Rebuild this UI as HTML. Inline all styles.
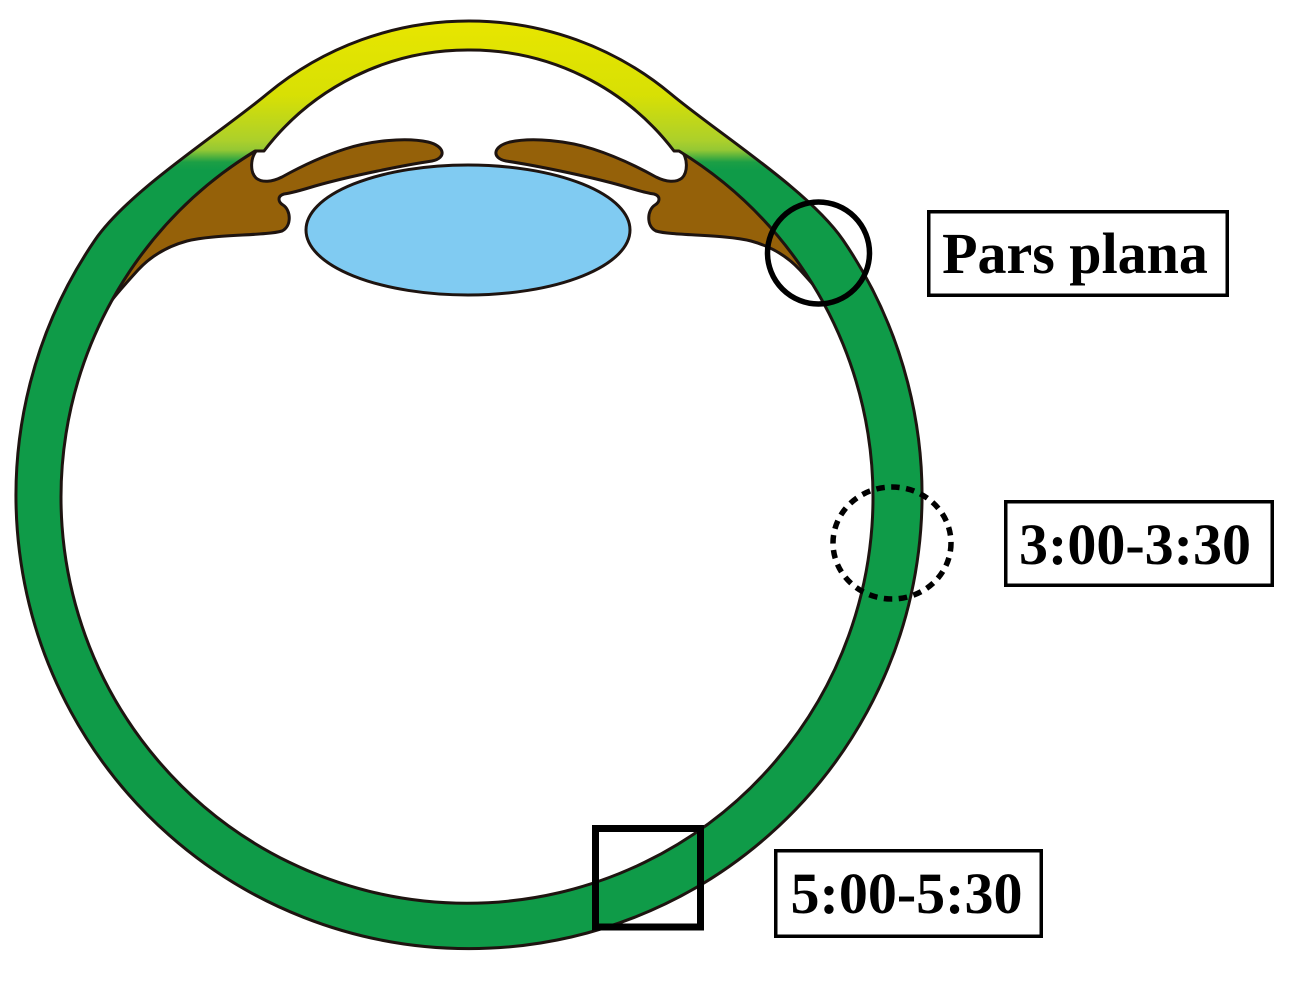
<!DOCTYPE html>
<html>
<head>
<meta charset="utf-8">
<style>
  html, body { margin: 0; padding: 0; background: #ffffff; }
  body { width: 1296px; height: 987px; overflow: hidden; }
  svg { display: block; }
  text { font-family: "Liberation Serif", "Times New Roman", serif; font-weight: bold; fill: #000; }
</style>
</head>
<body>
<svg width="1296" height="987" viewBox="0 0 1296 987" xmlns="http://www.w3.org/2000/svg">
  <defs>
    <linearGradient id="shellGrad" gradientUnits="userSpaceOnUse" x1="0" y1="20" x2="0" y2="170">
      <stop offset="0" stop-color="#e8e600"/>
      <stop offset="0.5" stop-color="#d8e004"/>
      <stop offset="0.8" stop-color="#add02a"/>
      <stop offset="0.867" stop-color="#94c834"/>
      <stop offset="0.947" stop-color="#1c9f45"/>
      <stop offset="1" stop-color="#0f9b48"/>
    </linearGradient>
    <path id="brownL" d="M 257,150
      C 250,158 250,172 256,178
      C 262,183 272,182 282,177
      C 300,167 320,157 345,149
      C 370,141 405,137 428,142
      C 445,146 447,158 432,161
      C 405,165 350,176 315,186
      C 302,190 292,193 284,194
      C 277,196 278,202 283,205
      C 291,210 292,226 282,231
      C 265,236 215,234 187,241
      C 165,247 150,257 138,270
      C 128,281 118,292 108,305
      A 406 406 0 0 1 257,150 Z"
      fill="#956109" stroke="#1e1410" stroke-width="3" stroke-linejoin="round"/>
  </defs>

  <rect x="0" y="0" width="1296" height="987" fill="#ffffff"/>

  <!-- iris / ciliary body -->
  <use href="#brownL"/>
  <g transform="matrix(-1 0 0 1 938 0)">
    <use href="#brownL"/>
  </g>

  <!-- lens -->
  <ellipse cx="468" cy="230" rx="162" ry="65" fill="#80cbf2" stroke="#1e1410" stroke-width="3"/>

  <!-- sclera + cornea shell -->
  <path fill-rule="evenodd" fill="url(#shellGrad)" stroke="#1e1410" stroke-width="3" stroke-linejoin="round"
    d="M 469,21
       A 315 315 0 0 0 267,94
       C 221,132.5 129,190.4 95,240
       A 453 453 0 1 0 843,240
       C 809,190.4 717,132.5 671,94
       A 315 315 0 0 0 469,21 Z
       M 469,50
       A 256 256 0 0 0 264,151
       L 255,151
       A 406 406 0 1 0 679,151
       L 674,151
       A 256 256 0 0 0 469,50 Z"/>

  <!-- pars plana circle -->
  <circle cx="818.5" cy="253" r="51" fill="none" stroke="#000" stroke-width="5.5"/>

  <!-- dotted circle -->
  <ellipse cx="892" cy="543" rx="59" ry="56" fill="none" stroke="#000" stroke-width="5.5" stroke-dasharray="8.5 6.5"/>

  <!-- square -->
  <rect x="595.5" y="828.5" width="105" height="98.5" fill="none" stroke="#000" stroke-width="7"/>

  <!-- label boxes -->
  <rect x="928.75" y="211.75" width="298.5" height="83.5" fill="#fff" stroke="#000" stroke-width="3.5"/>
  <text x="1075" y="273" font-size="58" text-anchor="middle">Pars plana</text>

  <rect x="1005.75" y="501.75" width="266.5" height="83.5" fill="#fff" stroke="#000" stroke-width="3.5"/>
  <text x="1135" y="564" font-size="58" text-anchor="middle">3:00-3:30</text>

  <rect x="775.75" y="850.75" width="265.5" height="85.5" fill="#fff" stroke="#000" stroke-width="3.5"/>
  <text x="906.5" y="913" font-size="58" text-anchor="middle">5:00-5:30</text>
</svg>
</body>
</html>
